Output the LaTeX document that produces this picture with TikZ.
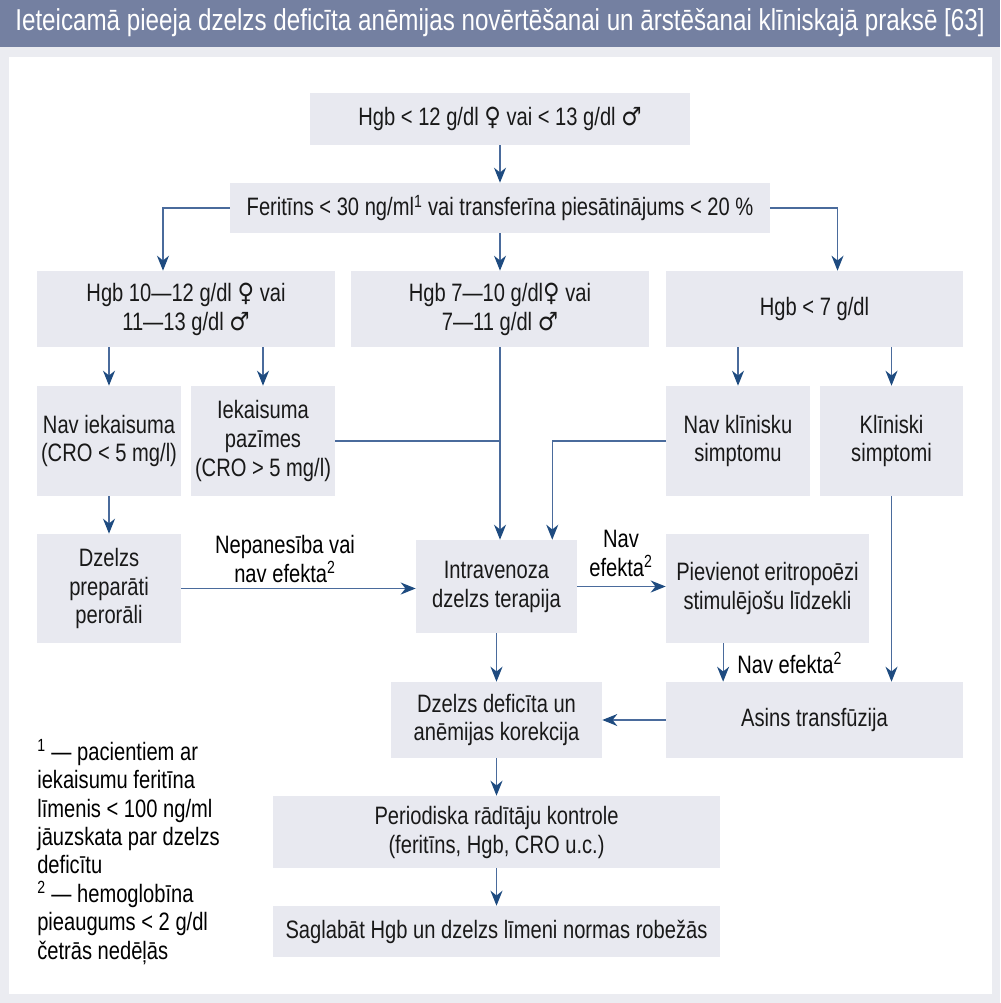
\documentclass[tikz,border=0pt]{standalone}
\usepackage{fontspec}
\setmainfont{Liberation Sans}[FakeStretch=0.8]
\newfontfamily\symfont{DejaVu Sans}[FakeStretch=0.9]
\newcommand{\femsym}{{\symfont ♀}}
\newcommand{\malesym}{{\symfont ♂}}
\usetikzlibrary{arrows.meta}
\pgfdeclarelayer{bglayer}
\pgfdeclarelayer{edgelayer}
\pgfdeclarelayer{nodelayer}
\pgfsetlayers{bglayer,edgelayer,nodelayer,main}
\definecolor{titleblue}{HTML}{7480A1}
\definecolor{framegrey}{HTML}{EBECF1}
\definecolor{boxgrey}{HTML}{E8E9F0}
\definecolor{lineblue}{HTML}{4A6B9C}
\definecolor{tipblue}{HTML}{1E4B80}
\tikzset{font=\fontsize{17.9}{20.6}\selectfont}
\tikzstyle{none}=[inner sep=0pt]
\tikzstyle{box}=[rectangle,fill=boxgrey,inner sep=0pt,align=center,text=black!90]
\tikzstyle{link}=[line width=0.9pt,draw=lineblue]
\tikzstyle{arrow}=[line width=0.9pt,draw=lineblue,-{Stealth[length=3.75mm,width=3mm,inset=1.2mm,color=tipblue]}]
\begin{document}
\begin{tikzpicture}[x=0.025cm,y=-0.025cm]
	\useasboundingbox (0,0) rectangle (1000,1003);
	\begin{pgfonlayer}{bglayer}
		\fill[framegrey] (0,0) rectangle (1000,1003);
		\fill[titleblue] (0,0) rectangle (1000,47);
		\fill[white] (9,57) rectangle (992,994);
	\end{pgfonlayer}
	\begin{pgfonlayer}{nodelayer}
		\node [style=none, text=white, font=\fontsize{21.5}{25}\selectfont] (title) at (500,23) {Ieteicamā pieeja dzelzs deficīta anēmijas novērtēšanai un ārstēšanai klīniskajā praksē [63]};
		\node [style=box, minimum width=9.5cm, minimum height=1.3cm] (0) at (500,119) {Hgb < 12 g/dl \femsym{} vai < 13 g/dl \malesym};
		\node [style=box, minimum width=13.5cm, minimum height=1.25cm] (1) at (500,208) {Feritīns < 30 ng/ml\textsuperscript{1} vai transferīna piesātinājums < 20 \%};
		\node [style=box, minimum width=7.45cm, minimum height=1.9cm] (2) at (186,309) {Hgb 10—12 g/dl \femsym{} vai\\11—13 g/dl \malesym};
		\node [style=box, minimum width=7.45cm, minimum height=1.9cm] (3) at (500,309) {Hgb 7—10 g/dl\femsym{} vai\\7—11 g/dl \malesym};
		\node [style=box, minimum width=7.425cm, minimum height=1.9cm] (4) at (814.5,309) {Hgb < 7 g/dl};
		\node [style=box, minimum width=3.6cm, minimum height=2.75cm] (5) at (109,441) {Nav iekaisuma\\(CRO < 5 mg/l)};
		\node [style=box, minimum width=3.6cm, minimum height=2.75cm] (6) at (263,441) {Iekaisuma\\pazīmes\\(CRO > 5 mg/l)};
		\node [style=box, minimum width=3.6cm, minimum height=2.75cm] (7) at (738,441) {Nav klīnisku\\simptomu};
		\node [style=box, minimum width=3.575cm, minimum height=2.75cm] (8) at (891.5,441) {Klīniski\\simptomi};
		\node [style=box, minimum width=3.6cm, minimum height=2.725cm] (9) at (109,588.5) {Dzelzs\\preparāti\\perorāli};
		\node [style=box, minimum width=4.025cm, minimum height=2.325cm] (10) at (496.5,586.5) {Intravenoza\\dzelzs terapija};
		\node [style=box, minimum width=5.075cm, minimum height=2.725cm] (11) at (767.5,588.5) {Pievienot eritropoēzi\\stimulējošu līdzekli};
		\node [style=box, minimum width=5.275cm, minimum height=1.9cm] (12) at (496.5,720) {Dzelzs deficīta un\\anēmijas korekcija};
		\node [style=box, minimum width=7.425cm, minimum height=1.9cm] (13) at (814.5,720) {Asins transfūzija};
		\node [style=box, minimum width=11.175cm, minimum height=1.8cm] (14) at (496.5,832) {Periodiska rādītāju kontrole\\(feritīns, Hgb, CRO u.c.)};
		\node [style=box, minimum width=11.175cm, minimum height=1.275cm] (15) at (496.5,931.5) {Saglabāt Hgb un dzelzs līmeni normas robežās};
		\node [style=none, align=center] (16) at (285,559) {Nepanesība vai\\nav efekta\textsuperscript{2}};
		\node [style=none, align=center] (17) at (621,553) {Nav\\efekta\textsuperscript{2}};
		\node [style=none, anchor=west] (18) at (737,663) {Nav efekta\textsuperscript{2}};
		\node [style=none, anchor=north west, align=left, font=\fontsize{17.9}{20.2}\selectfont] (19) at (37,739) {\textsuperscript{1} — pacientiem ar\\iekaisumu feritīna\\līmenis < 100 ng/ml\\jāuzskata par dzelzs\\deficītu\\\textsuperscript{2} — hemoglobīna\\pieaugums < 2 g/dl\\četrās nedēļās};
	\end{pgfonlayer}
	\begin{pgfonlayer}{edgelayer}
		\draw [style=arrow] (0.south) to (1.north);
		\draw [style=arrow] (1.west) -| (2.121);
		\draw [style=arrow] (1.south) to (3.north);
		\draw [style=arrow] (1.east) -| (4.59);
		\draw [style=arrow] (2.south -| 5.north) to (5.north);
		\draw [style=arrow] (2.south -| 6.north) to (6.north);
		\draw [style=arrow] (4.south -| 7.north) to (7.north);
		\draw [style=arrow] (4.south -| 8.north) to (8.north);
		\draw [style=arrow] (5.south) to (9.north);
		\draw [style=arrow] (3.south) to (3.south |- 10.north);
		\draw [style=link] (6.east) to (6.east -| 3.south);
		\draw [style=arrow] (7.west) -| (10.40);
		\draw [style=arrow] (9.east) to (9.east -| 10.west);
		\draw [style=arrow] (10.east) to (10.east -| 11.west);
		\draw [style=arrow] (11.231) to (11.231 |- 13.north);
		\draw [style=arrow] (8.south) to (8.south |- 13.north);
		\draw [style=arrow] (13.west) to (12.east);
		\draw [style=arrow] (10.south) to (12.north);
		\draw [style=arrow] (12.south) to (14.north);
		\draw [style=arrow] (14.south) to (15.north);
	\end{pgfonlayer}
\end{tikzpicture}
\end{document}
